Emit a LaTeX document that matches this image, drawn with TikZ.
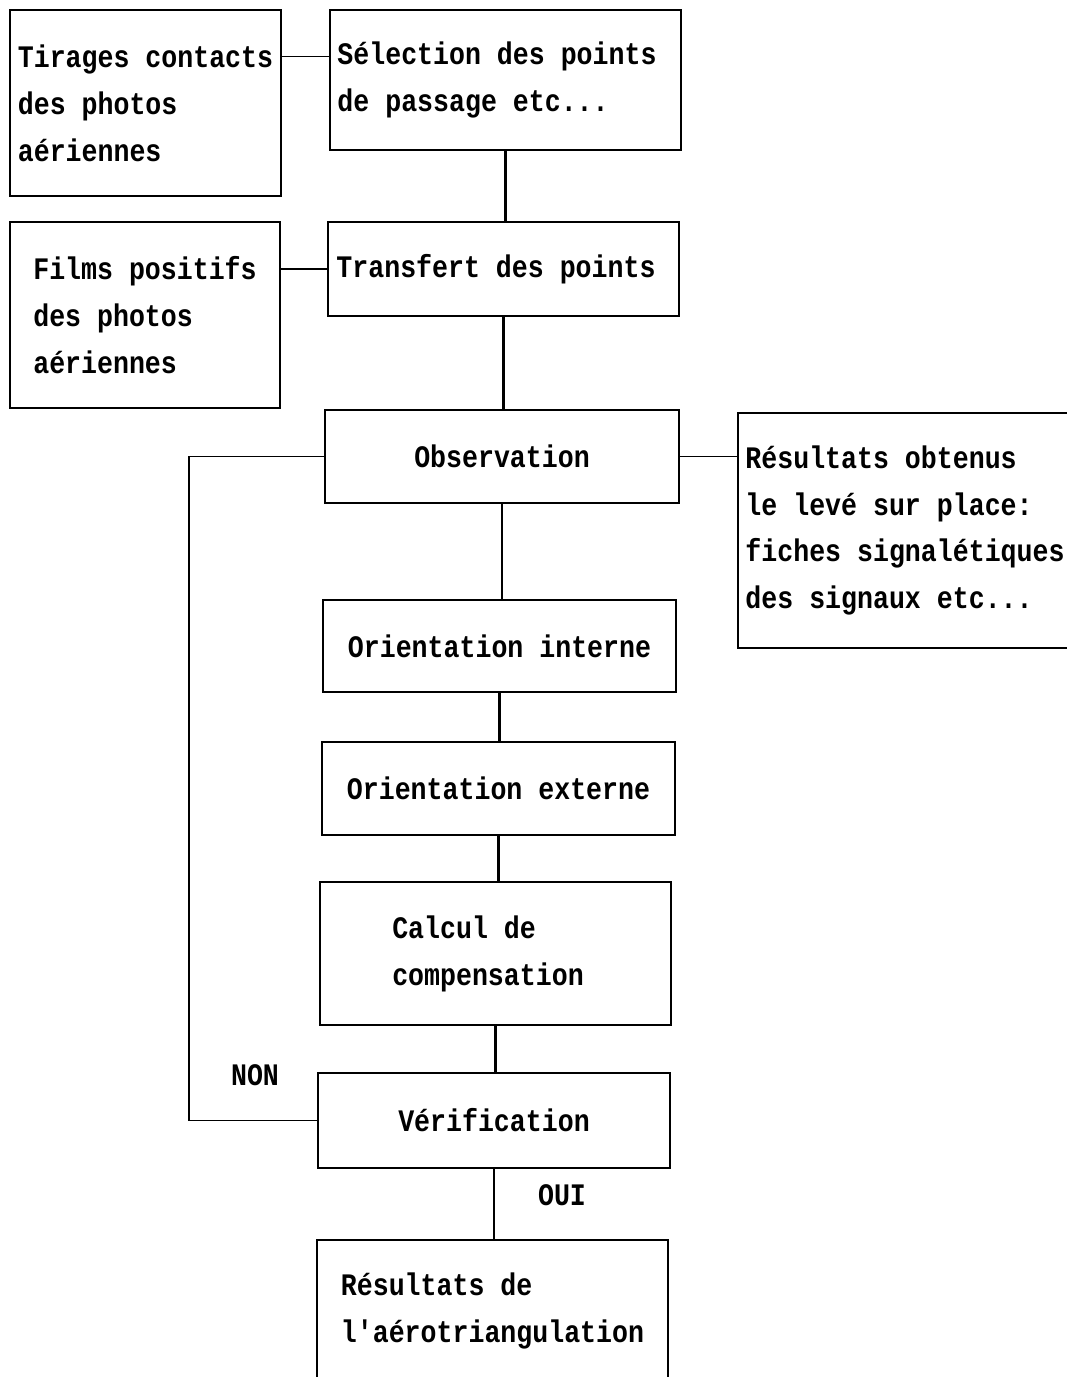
\documentclass[tikz,border=0pt]{standalone}
\usepackage{fontspec}
\newfontfamily\scanfont[FakeStretch=0.85]{Liberation Mono}
\begin{document}
\begin{tikzpicture} [line width = 0.9pt,
  box/.style = {draw, align = left, inner sep = 0pt},
  thick link/.style = {line width = 1.6pt},
  thin link/.style = {line width = 0.6pt},
  font = \scanfont\bfseries\fontsize{17.8}{26.7}\selectfont]

\useasboundingbox (0,0) rectangle (21.34,-27.54);
\clip (0,0) rectangle (21.34,-27.54);

\node [box, minimum width = 5.42cm, minimum height = 3.72cm] (tirages) at (2.91,-2.06) {Tirages contacts\\des photos\\aériennes};
\node [box, minimum width = 7.02cm, minimum height = 2.80cm] (selection) at (10.11,-1.60) {Sélection des points\hspace*{0.34cm}\\de passage etc...};
\node [box, minimum width = 7.02cm, minimum height = 1.88cm] (transfert) at (10.07,-5.38) {Transfert des points\hspace*{0.30cm}};
\node [box, minimum width = 5.40cm, minimum height = 3.72cm] (films) at (2.90,-6.30) {Films positifs\\des photos\\aériennes};
\node [box, minimum width = 7.08cm, minimum height = 1.86cm] (obs) at (10.04,-9.13) {Observation};
\node [box, minimum width = 6.68cm, minimum height = 4.70cm] (leve) at (18.10,-10.61) {Résultats obtenus\\le levé sur place:\\fiches signalétiques\\des signaux etc...};
\node [box, minimum width = 7.06cm, minimum height = 1.84cm] (interne) at (9.99,-12.92) {Orientation interne};
\node [box, minimum width = 7.06cm, minimum height = 1.86cm] (externe) at (9.97,-15.77) {Orientation externe};
\node [box, minimum width = 7.02cm, minimum height = 2.86cm] (calcul) at (9.91,-19.07) {Calcul de\\compensation\hspace*{0.30cm}};
\node [box, minimum width = 7.04cm, minimum height = 1.90cm] (verif) at (9.88,-22.41) {Vérification};
\node [box, minimum width = 7.02cm, minimum height = 2.84cm] (aero) at (9.85,-26.22) {Résultats de\\l'aérotriangulation};

\node (non) at (5.10,-21.50) {NON};
\node (oui) at (11.24,-23.90) {OUI};

% side inputs
\draw [thin link] ([yshift=-0.94cm]tirages.north east) -- ([yshift=-0.94cm]tirages.north east -| selection.west);
\draw [thin link] (films.east |- transfert.west) -- (transfert.west);
\draw [thin link] (obs.east) -- (obs.east -| leve.west);

% main chain
\draw [thick link] (selection.south) -- (selection.south |- transfert.north);
\draw [thick link] (transfert.south) -- (transfert.south |- obs.north);
\draw [thick link] (obs.south) -- (obs.south |- interne.north);
\draw [thick link] (interne.south) -- (interne.south |- externe.north);
\draw [thick link] (externe.south) -- (externe.south |- calcul.north);
\draw [thick link] (calcul.south) -- (calcul.south |- verif.north);
\draw [thick link] (verif.south) -- (verif.south |- aero.north);

% loop back
\draw (verif.west) -- ++(-2.56,0) |- (obs.west);

\end{tikzpicture}
\end{document}
